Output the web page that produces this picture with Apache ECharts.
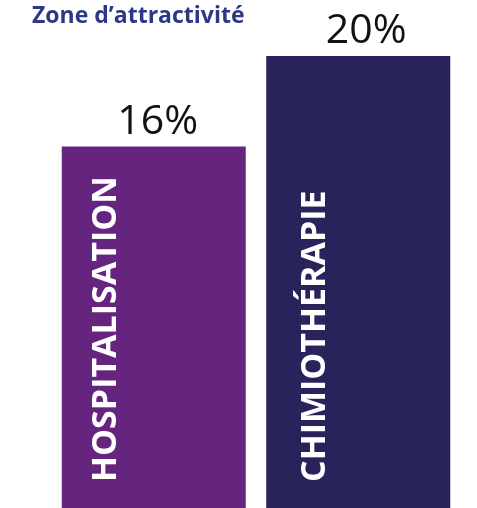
<!DOCTYPE html>
<html>
<head>
<meta charset="utf-8">
<script src="https://cdn.jsdelivr.net/npm/echarts@6/dist/echarts.min.js"></script>
<style>
  html, body { margin: 0; padding: 0; background: #fff; }
  #chart { width: 477px; height: 508px; }
</style>
</head>
<body>
<div id="chart"></div>
<script>
// données
const categories = ['HOSPITALISATION', 'CHIMIOTHÉRAPIE']
const values = [16, 20]

// style
const barColors = ['#65257f', '#29235c']
const valueLabelShift = [4, 8]        // décalage horizontal des pourcentages
const nameLabelX = ['24%', '26.5%']   // position des libellés verticaux dans la barre

const chart = echarts.init(document.getElementById('chart'))

const option = {
    animation: false,
    title: {
        text: 'Zone d\u2019attractivité',
        left: 27,
        top: 0,
        textStyle: {
            fontFamily: 'Open Sans',
            fontWeight: 'bold',
            fontSize: 23,
            color: '#2b3886'
        }
    },
    grid: {
        left: 51.5,
        right: 477 - 460.5,
        top: 56,
        bottom: 0,
        containLabel: false
    },
    xAxis: {
        type: 'category',
        data: categories,
        axisLine: { show: false },
        axisTick: { show: false },
        axisLabel: { show: false }
    },
    yAxis: {
        type: 'value',
        min: 0,
        max: 20,
        show: false,
        splitLine: { show: false }
    },
    series: [
        {
            type: 'bar',
            barWidth: 184,
            data: values.map((v, i) => ({
                value: v,
                itemStyle: { color: barColors[i] },
                label: { offset: [valueLabelShift[i], 0] }
            })),
            label: {
                show: true,
                position: 'top',
                distance: 4,
                formatter: '{c}%',
                fontFamily: 'Open Sans',
                fontSize: 41,
                color: '#111'
            }
        },
        {
            // libellés verticaux dans les barres
            type: 'bar',
            barWidth: 184,
            barGap: '-100%',
            silent: true,
            itemStyle: { color: 'transparent' },
            data: values.map((v, i) => ({
                value: v,
                label: { position: [nameLabelX[i], '100%'] }
            })),
            label: {
                show: true,
                offset: [26, 0],
                rotate: 90,
                align: 'left',
                verticalAlign: 'middle',
                formatter: p => categories[p.dataIndex],
                fontFamily: 'Open Sans',
                fontWeight: 'bold',
                fontSize: 34,
                color: '#fff'
            }
        }
    ]
}

chart.setOption(option)
</script>
</body>
</html>
